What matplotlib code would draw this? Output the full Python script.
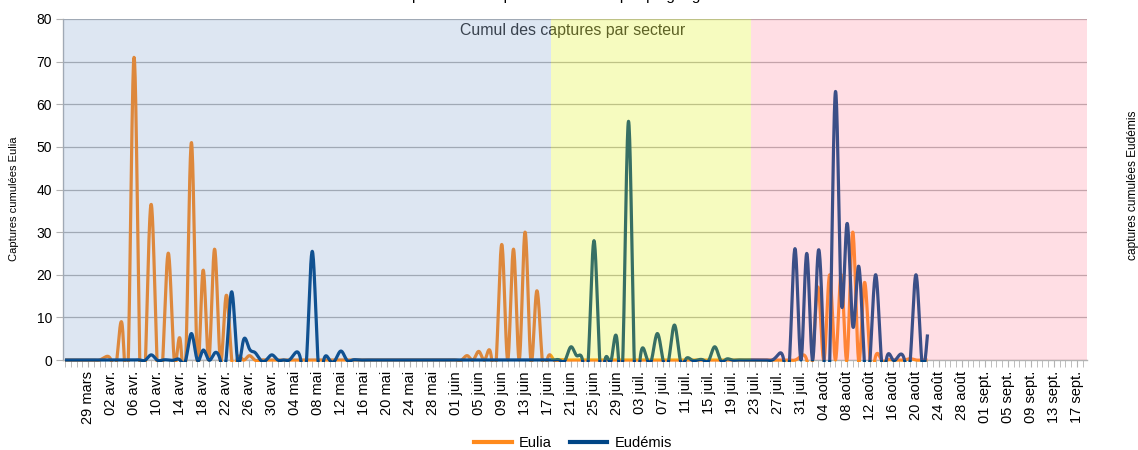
import numpy as np
import pandas as pd
import matplotlib
matplotlib.use("Agg")
import matplotlib.pyplot as plt
from matplotlib.transforms import Bbox, TransformedBbox
from matplotlib.lines import Line2D

plt.rcParams['font.family'] = ['Liberation Sans', 'DejaVu Sans']

# ---------------- data ----------------
start_date = "2019-03-25"
end_date = "2019-09-18"
month_names = {3: "mars", 4: "avr.", 5: "mai", 6: "juin", 7: "juil.", 8: "août", 9: "sept."}

# Eulia, daily values from 25 mars to 22 août
eulia_mars = [0, 0, 0, 0, 0, 0, 0]
eulia_avr = [0.7, 0, 0, 7.5, 0, 71, 0, 0, 36.5, 0, 0, 25, 0, 5, 0, 51, 0, 21, 0, 26,
             0, 15, 0, 0.5, 0, 1, 0, 0, 0, 0]
eulia_mai = [0] * 31
eulia_juin = [0, 0, 1, 0, 2, 0, 1.8, 0, 27, 0, 26, 0, 30, 0, 16, 0, 0.7, 0, 0, 0,
              0, 0, 0, 0, 0, 0, 0, 0, 0, 0]
eulia_juil = [0] * 30 + [0.9]
eulia_aout = [0, 0, 17, 0, 20, 0, 20, 0, 30, 0, 18, 0, 1, 0, 0, 0, 0, 0, 0.3, 0, 0, 0]

# Eudémis
eudemis_mars = [0, 0, 0, 0, 0, 0, 0]
eudemis_avr = [0, 0, 0, 0, 0, 0, 0, 0, 1.2, 0, 0, 0, 0, 0, 0, 6.2, 0, 2.3, 0, 1.6,
               0, 0, 16, 0, 4.5, 2.8, 1.8, 0, 0, 1.2]
eudemis_mai = [0, 0, 0, 1.6, 0, 0, 25.5, 0, 0, 0, 0, 2.1, 0, 0, 0, 0, 0, 0, 0, 0,
               0, 0, 0, 0, 0, 0, 0, 0, 0, 0, 0]
eudemis_juin = [0, 0, 0, 0, 0, 0, 0, 0, 0, 0, 0, 0, 0, 0, 0, 0, 0, 0, 0, 0,
                3.1, 1, 0, 0, 28, 0, 0.5, 0, 4.7, 0]
eudemis_juil = [56, 0, 0, 1.2, 0, 6.2, 0, 0, 8.2, 0, 0.3, 0, 0, 0, 0, 3.1, 0, 0.2, 0, 0,
                0, 0, 0, 0, 0, 0, 1.2, 0, 0, 26, 0]
eudemis_aout = [25, 0, 25.5, 0, 0, 63, 14, 32, 8, 22, 0, 0, 20, 0, 1, 0, 1, 0, 0, 20, 0, 6]

eulia = eulia_mars + eulia_avr + eulia_mai + eulia_juin + eulia_juil + eulia_aout
eudemis = eudemis_mars + eudemis_avr + eudemis_mai + eudemis_juin + eudemis_juil + eudemis_aout

# sector boundaries (dates)
sector_bounds = ["2019-06-18", "2019-07-22"]

dates = pd.date_range(start_date, end_date, freq="D")
tick_labels = [f"{d.day:02d} {month_names[d.month]}" for d in dates]


def natural_spline(y, n=20):
    y = np.asarray(y, float)
    N = len(y)
    A = np.zeros((N, N))
    r = np.zeros(N)
    A[0, 0] = 1
    A[-1, -1] = 1
    for i in range(1, N - 1):
        A[i, i - 1] = 1
        A[i, i] = 4
        A[i, i + 1] = 1
        r[i] = 6 * (y[i - 1] - 2 * y[i] + y[i + 1])
    M = np.linalg.solve(A, r)
    xs, ys = [], []
    t = np.linspace(0, 1, n, endpoint=False)
    for i in range(N - 1):
        s = (M[i] * (1 - t) ** 3 / 6 + M[i + 1] * t ** 3 / 6
             + (y[i] - M[i] / 6) * (1 - t) + (y[i + 1] - M[i + 1] / 6) * t)
        xs.append(i + t)
        ys.append(s)
    xs.append([N - 1])
    ys.append([y[-1]])
    return np.concatenate(xs), np.concatenate(ys)


# ---------------- figure ----------------
W, H = 1138, 450
fig = plt.figure(figsize=(W / 100, H / 100), dpi=100)
ax = fig.add_axes([63 / W, 1 - 360 / H, (1087 - 63) / W, (360 - 19) / H])

col_eulia = "#ff8a1c"
col_eudemis = "#004586"
grid_col = "#b3b3b3"

x0, x1 = -0.35, 177.74
ax.set_xlim(x0, x1)
ax.set_ylim(0, 80)

for v in range(0, 81, 10):
    ax.axhline(v, color=grid_col, lw=0.9, zorder=1)

clip_bbox = TransformedBbox(Bbox([[x0, -0.45], [x1, 80]]), ax.transData)
for series, col in ((eulia, col_eulia), (eudemis, col_eudemis)):
    xs, ys = natural_spline(series)
    ln, = ax.plot(xs, ys, color=col, lw=2.3, zorder=3, solid_capstyle="butt")
    ln.set_clip_box(clip_bbox)

ax.text(0.5 * (x0 + x1) - 0.4, 77.2, "Cumul des captures par secteur", ha="center", va="center",
        fontsize=11.4, color="#333333", zorder=4)

# sector overlays
b1 = (pd.Timestamp(sector_bounds[0]) - dates[0]).days - 0.5
b2 = (pd.Timestamp(sector_bounds[1]) - dates[0]).days + 0.3
ax.axvspan(x0, b1, color=(85 / 255, 130 / 255, 190 / 255), alpha=0.2, lw=0, zorder=10)
ax.axvspan(b1, b2, color=(223 / 255, 240 / 255, 0), alpha=0.25, lw=0, zorder=10)
ax.axvspan(b2, x1, color=(1.0, 115 / 255, 142 / 255), alpha=0.235, lw=0, zorder=10)

# axes styling
for s in ("top", "right"):
    ax.spines[s].set_visible(False)
for s in ("left", "bottom"):
    ax.spines[s].set_color(grid_col)
    ax.spines[s].set_linewidth(1.0)

ax.set_yticks(range(0, 81, 10))
ax.tick_params(axis="y", direction="out", length=5, color=grid_col, labelsize=10,
               labelcolor="#000000", pad=3)

major_idx = list(range(4, len(dates), 4))
ax.set_xticks(major_idx)
ax.set_xticklabels([tick_labels[i] for i in major_idx], rotation=90, fontsize=10.5,
                   color="#000000")
ax.set_xticks(np.arange(len(dates)), minor=True)
ax.tick_params(axis="x", which="both", direction="out", length=5, color=grid_col, pad=3)

fig.text(14 / W, 1 - 199 / H, "Captures cumulées Eulia", rotation=90, ha="center",
         va="center", fontsize=8)
fig.text(1133 / W, 1 - 185 / H, "captures cumulées Eudémis", rotation=90, ha="center",
         va="center", fontsize=8.6)

# title, cut at the top of the picture (as in the reference)
fig.text(0.5, 1 - 3 / H, "Comparatif des captures cumulées par piégeage sexuel", ha="center",
         va="bottom", fontsize=11, color="#000000")

handles = [Line2D([0], [0], color=col_eulia, lw=3), Line2D([0], [0], color=col_eudemis, lw=3)]
fig.legend(handles, ["Eulia", "Eudémis"], loc="center", bbox_to_anchor=(573 / W, 1 - 443 / H),
           ncol=2, frameon=False, fontsize=10.5, handlelength=2.6, columnspacing=1.2,
           handletextpad=0.5)

fig.savefig("out.png", dpi=100)
